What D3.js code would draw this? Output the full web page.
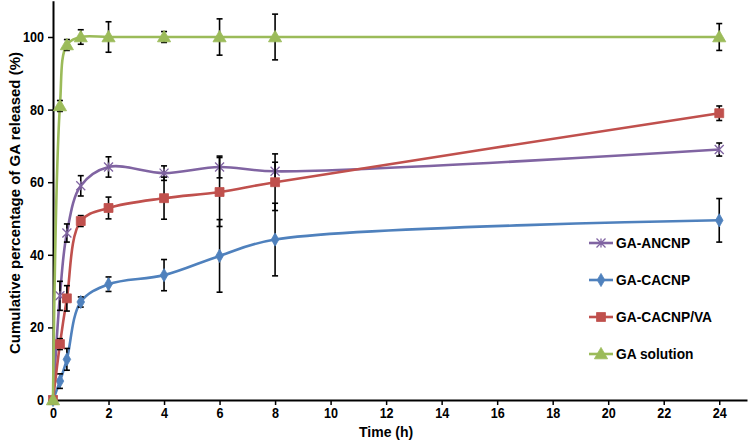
<!DOCTYPE html>
<html>
<head>
<meta charset="utf-8">
<script src="https://cdn.jsdelivr.net/npm/d3@7/dist/d3.min.js"></script>
<style>
  html, body { margin: 0; padding: 0; background: #fff; }
  svg { display: block; }
  text { font-family: "Liberation Sans", Arial, sans-serif; font-weight: bold; fill: #000; }
</style>
</head>
<body>
<svg id="chart" width="750" height="445"></svg>
<script>
// ---- data ----
const time = [0, 0.25, 0.5, 1, 2, 4, 6, 8, 24];
const seriesNames = ["GA-ANCNP", "GA-CACNP", "GA-CACNP/VA", "GA solution"];
const ancnp    = [0, 28.7, 46, 59, 64.2, 62.5, 64.2, 63, 69];
const ancnpErr = [0, 4, 2.5, 2.8, 2.8, 2, 3, 2.5, 1.8];
const cacnp    = [0, 5.2, 11.2, 27, 31.9, 34.4, 39.7, 44.2, 49.5];
const cacnpErr = [0, 2, 3, 1.4, 2, 4.3, 10, 10, 6];
const cacnpVa    = [0, 15.4, 28, 49.3, 52.9, 55.6, 57.3, 60, 79];
const cacnpVaErr = [0, 1.5, 3.5, 1.5, 3, 5.8, 9.5, 7.8, 2];
const solution    = [0, 81, 97.8, 100, 100, 100, 100, 100, 100];
const solutionErr = [0, 1.5, 1.5, 2, 4.2, 1.5, 5, 6.3, 3.7];
const xTicks = [0, 2, 4, 6, 8, 10, 12, 14, 16, 18, 20, 22, 24];
const yTicks = [0, 20, 40, 60, 80, 100];
const xTitle = "Time (h)";
const yTitle = "Cumulative percentage of GA released (%)";

const colors = ["#8064A2", "#4F81BD", "#C0504D", "#9BBB59"];
const markers = ["x", "diamond", "square", "triangle"];
const values = [ancnp, cacnp, cacnpVa, solution];
const errs = [ancnpErr, cacnpErr, cacnpVaErr, solutionErr];

// ---- layout ----
const svg = d3.select("#chart");
const x = d3.scaleLinear().domain([0, 25]).range([53, 747]);
const y = d3.scaleLinear().domain([0, 110]).range([400, 0.7]);

// axes
const gx = svg.append("g").attr("transform", "translate(0,400)")
  .call(d3.axisBottom(x).tickValues(xTicks).tickSize(5).tickSizeOuter(0).tickPadding(3));
const gy = svg.append("g").attr("transform", "translate(53,0)")
  .call(d3.axisLeft(y).tickValues(yTicks).tickSize(5).tickSizeOuter(0).tickPadding(4));
[gx, gy].forEach(g => {
  g.select(".domain").attr("stroke", "#000").attr("stroke-width", 2);
  g.selectAll(".tick line").attr("stroke", "#000").attr("stroke-width", 1.5);
  g.selectAll(".tick text").style("font-size", "14px").style("font-family", "Liberation Sans, Arial, sans-serif").style("font-weight", "bold").attr("fill", "#000");
});
// slightly condensed tick labels, as in the reference
gx.selectAll(".tick text").each(function () {
  const t = d3.select(this);
  t.attr("transform", "scale(0.9,1)").attr("x", 0);
});
gy.selectAll(".tick text").attr("transform", "translate(-9,0) scale(0.9,1) translate(9,0)");

svg.append("text").attr("x", x(12)).attr("y", 437).attr("text-anchor", "middle")
  .style("font-size", "14px").text(xTitle);
svg.append("text").attr("transform", "translate(20,203) rotate(-90)").attr("text-anchor", "middle")
  .style("font-size", "15px").text(yTitle);

function drawMarker(g, kind, cx, cy, color) {
  if (kind === "x") {
    const s = 4.5;
    g.append("path")
      .attr("d", `M${cx - s},${cy - s}L${cx + s},${cy + s}M${cx - s},${cy + s}L${cx + s},${cy - s}M${cx},${cy - s}L${cx},${cy + s}`)
      .attr("stroke", color).attr("stroke-width", 1.3).attr("fill", "none");
  } else {
    const sym = kind === "diamond" ? d3.symbolDiamond : kind === "square" ? d3.symbolSquare : d3.symbolTriangle;
    const size = kind === "diamond" ? 50 : kind === "square" ? 80 : 75;
    g.append("path").attr("d", d3.symbol().type(sym).size(size)())
      .attr("transform", `translate(${cx},${cy + (kind === "triangle" ? 1 : 0)})`)
      .attr("fill", color).attr("stroke", color).attr("stroke-width", 0.8);
  }
}

const line = d3.line().curve(d3.curveCatmullRom.alpha(0.5));

values.forEach((vals, si) => {
  const g = svg.append("g");
  const pts = time.map((t, i) => [x(t), y(vals[i])]);
  g.append("path").attr("d", line(pts)).attr("fill", "none")
    .attr("stroke", colors[si]).attr("stroke-width", 2.6);
  // error bars
  time.forEach((t, i) => {
    const e = errs[si][i];
    if (!e) return;
    const cx = x(t), y1 = y(vals[i] + e), y2 = y(vals[i] - e);
    g.append("line").attr("x1", cx).attr("x2", cx).attr("y1", y1).attr("y2", y2)
      .attr("stroke", "#000").attr("stroke-width", 1.6);
    [y1, y2].forEach(yy => g.append("line").attr("x1", cx - 3).attr("x2", cx + 3)
      .attr("y1", yy).attr("y2", yy).attr("stroke", "#000").attr("stroke-width", 1.6));
  });
  time.forEach((t, i) => drawMarker(g, markers[si], x(t), y(vals[i]), colors[si]));
});

// legend
const legY = [243, 280, 317, 354];
seriesNames.forEach((name, si) => {
  const g = svg.append("g");
  g.append("line").attr("x1", 589).attr("x2", 613).attr("y1", legY[si]).attr("y2", legY[si])
    .attr("stroke", colors[si]).attr("stroke-width", 2.6);
  drawMarker(g, markers[si], 601, legY[si], colors[si]);
  g.append("text").attr("transform", `translate(616,${legY[si] + 5}) scale(0.95,1)`)
    .style("font-size", "14.5px").text(name);
});
</script>
</body>
</html>
